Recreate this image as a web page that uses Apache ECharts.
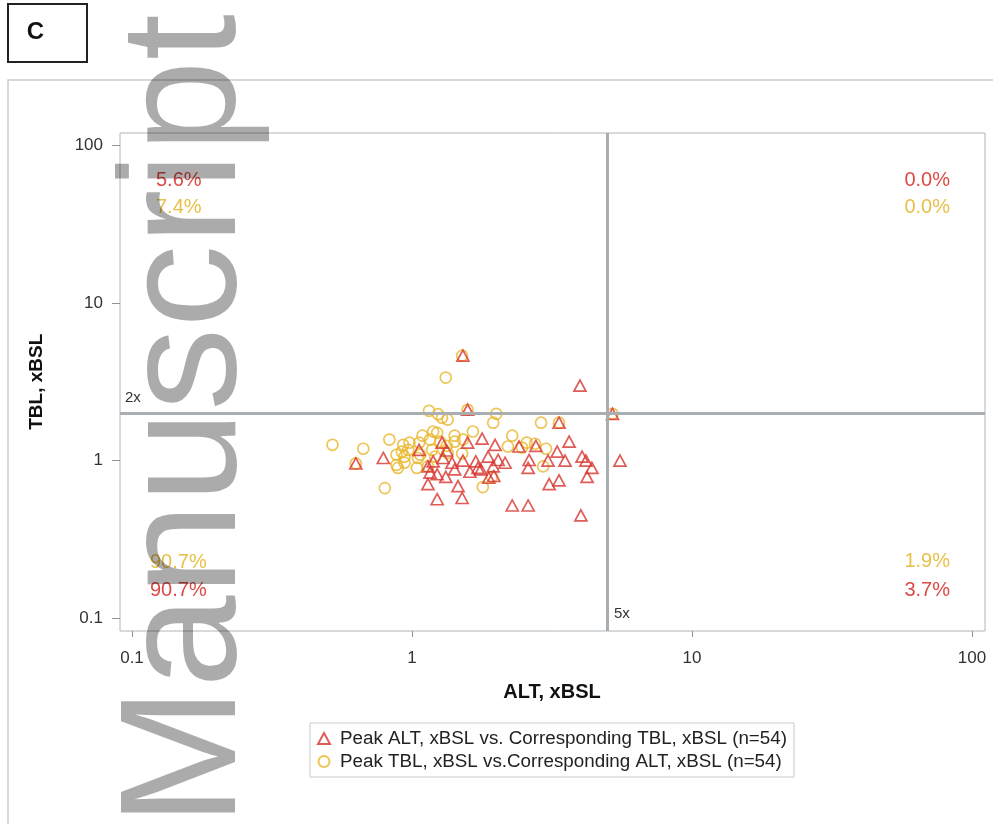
<!DOCTYPE html>
<html>
<head>
<meta charset="utf-8">
<script src="https://cdn.jsdelivr.net/npm/echarts@6/dist/echarts.min.js"></script>
<style>html,body{margin:0;padding:0;background:#fff}#c{width:993px;height:824px}</style>
</head>
<body>
<div id="c"></div>
<script>
// ---------------- DATA ----------------
const panelLabel = 'C';
const watermark = 'Manuscript';
const xAxisName = 'ALT, xBSL';
const yAxisName = 'TBL, xBSL';
const xTickValues = [0.1, 1, 10, 100];
const xTickLabels = ['0.1', '1', '10', '100'];
const yTickValues = [0.1, 1, 10, 100];
const yTickLabels = ['0.1', '1', '10', '100'];
const refX = 5;   // ALT 5x BSL
const refY = 2;   // TBL 2x BSL
const refXLabel = '5x';
const refYLabel = '2x';
const seriesNames = [
  'Peak ALT, xBSL vs. Corresponding TBL, xBSL (n=54)',
  'Peak TBL, xBSL vs.Corresponding ALT, xBSL (n=54)'
];
// quadrant percentages: [upper-left, upper-right, lower-left, lower-right]
const pctPeakALT = ['5.6%', '0.0%', '90.7%', '3.7%'];
const pctPeakTBL = ['7.4%', '0.0%', '90.7%', '1.9%'];

// Peak ALT (x) vs corresponding TBL (y)
const peakALT_x = [0.63,0.79,1.06,1.28,1.29,1.39,1.52,1.58,1.78,1.98,1.87,2.03,1.95,1.14,1.16,1.23,1.14,1.32,1.46,1.61,1.76,1.96,1.23,1.51,1.52,1.58,2.41,2.77,3.64,3.30,2.62,3.06,3.52,4.05,4.18,4.39,4.22,2.60,3.35,3.09,2.28,2.60,4.01,3.98,5.2,5.53,3.35,1.72,1.33,1.69,1.19,2.15,1.88,1.42];
const peakALT_y = [0.96,1.04,1.17,1.30,1.04,0.97,1.00,1.30,1.38,1.26,1.06,1.01,0.92,0.92,0.84,0.82,0.71,0.79,0.69,0.85,0.88,0.80,0.57,0.58,4.63,2.10,1.23,1.24,1.32,1.14,1.01,1.00,1.00,1.06,1.00,0.90,0.79,0.90,0.75,0.71,0.52,0.52,0.45,2.99,1.98,1.00,1.74,0.90,1.16,0.99,0.99,0.97,0.78,0.88];
// Peak TBL (y) vs corresponding ALT (x)
const peakTBL_x = [0.52,0.67,0.63,0.80,0.83,0.93,0.98,1.06,0.97,0.88,0.94,0.88,0.89,0.94,1.05,1.04,1.16,1.19,1.23,1.18,1.26,1.33,1.34,1.21,1.42,1.42,1.51,1.65,1.15,1.24,1.28,1.34,1.32,1.51,1.58,2.00,1.95,2.89,2.28,2.20,2.57,2.47,2.75,3.01,2.94,1.93,1.79,3.35,5.2,1.14,1.09,0.92,1.52,1.07];
const peakTBL_y = [1.26,1.19,0.96,0.67,1.36,1.26,1.30,1.30,1.17,1.09,1.06,0.94,0.90,0.97,1.04,0.90,1.36,1.53,1.50,1.17,1.32,1.24,1.12,1.06,1.44,1.32,1.11,1.53,2.07,1.97,1.87,1.82,3.36,4.63,2.10,1.98,1.74,1.74,1.44,1.23,1.30,1.21,1.28,1.19,0.92,0.79,0.68,1.74,1.98,0.92,1.44,1.14,1.36,1.09];

// ---------------- LAYOUT / STYLE ----------------
const RED = '#d7342f', YEL = '#e8b62c';
const RED_T = '#dc4a45', YEL_T = '#e8bf48';
const FONT = '"Liberation Sans", Arial, sans-serif';
// frame (outer plot box) and decade tick area
const F = {left: 120, top: 133, right: 985, bottom: 631};
const T = {left: 132, top: 145, right: 972, bottom: 618.5};
const xDec = (T.right - T.left) / 3, yDec = (T.bottom - T.top) / 3;
const fxMin = Math.pow(10, -1 - (T.left - F.left) / xDec);
const fxMax = Math.pow(10, 2 + (F.right - T.right) / xDec);
const fyMin = Math.pow(10, -1 - (F.bottom - T.bottom) / yDec);
const fyMax = Math.pow(10, 2 + (T.top - F.top) / yDec);

const zip = (a, b) => a.map((v, i) => [v, b[i]]);

const chart = echarts.init(document.getElementById('c'), null, {renderer: 'canvas'});

function pctText(txt, color, pos) {
  return {type: 'text', x: pos[0], y: pos[1], z: 50,
    style: {text: txt, fill: color, font: '20px ' + FONT, textAlign: pos[2], textVerticalAlign: 'middle'}};
}
const pctPos = {
  ul: [[156, 180, 'left'], [156, 207, 'left']],
  ur: [[950, 180, 'right'], [950, 207, 'right']],
  ll: [[150, 590, 'left'], [150, 562, 'left']],
  lr: [[950, 590, 'right'], [950, 561, 'right']]
};

const option = {
  backgroundColor: '#fff',
  animation: false,
  grid: [
    {left: F.left, top: F.top, width: F.right - F.left, height: F.bottom - F.top,
     show: true, borderColor: '#b0b5b9', borderWidth: 1, backgroundColor: 'transparent'},
    {left: T.left, top: T.top, width: T.right - T.left, height: T.bottom - T.top, show: false}
  ],
  xAxis: [
    {type: 'log', logBase: 10, gridIndex: 0, min: fxMin, max: fxMax, show: false},
    {type: 'log', logBase: 10, gridIndex: 1, min: xTickValues[0], max: xTickValues[xTickValues.length-1],
     offset: F.bottom - T.bottom,
     axisLine: {show: false},
     axisTick: {show: true, length: 6, lineStyle: {color: '#8e959a', width: 1}},
     minorTick: {show: false}, splitLine: {show: false},
     axisLabel: {fontSize: 17, color: '#333', fontFamily: FONT, margin: 19,
       formatter: v => { const i = xTickValues.findIndex(t => Math.abs(t - v) / t < 1e-6); return i >= 0 ? xTickLabels[i] : ''; }},
     name: xAxisName, nameLocation: 'middle', nameGap: 51,
     nameTextStyle: {fontSize: 20, fontWeight: 'bold', color: '#111', fontFamily: FONT}}
  ],
  yAxis: [
    {type: 'log', logBase: 10, gridIndex: 0, min: fyMin, max: fyMax, show: false},
    {type: 'log', logBase: 10, gridIndex: 1, min: yTickValues[0], max: yTickValues[yTickValues.length-1],
     offset: T.left - F.left,
     axisLine: {show: false},
     axisTick: {show: true, length: 8, lineStyle: {color: '#8e959a', width: 1}},
     minorTick: {show: false}, splitLine: {show: false},
     axisLabel: {fontSize: 17, color: '#333', fontFamily: FONT, margin: 17,
       formatter: v => { const i = yTickValues.findIndex(t => Math.abs(t - v) / t < 1e-6); return i >= 0 ? yTickLabels[i] : ''; }},
     name: yAxisName, nameLocation: 'middle', nameGap: 74, nameRotate: 90,
     nameTextStyle: {fontSize: 19, fontWeight: 'bold', color: '#111', fontFamily: FONT}}
  ],
  legend: {
    orient: 'vertical', left: 310, top: 723,
    padding: [6, 7, 6, 7], itemGap: 4, itemWidth: 12, itemHeight: 11,
    borderColor: '#c8cacc', borderWidth: 1,
    textStyle: {fontSize: 18.8, color: '#222', fontFamily: FONT, padding: [0, 0, 0, 5]},
    data: seriesNames
  },
  series: [
    {name: seriesNames[0], type: 'scatter', xAxisIndex: 0, yAxisIndex: 0,
     data: zip(peakALT_x, peakALT_y), symbol: 'triangle', symbolSize: [12, 11],
     itemStyle: {color: 'rgba(255,255,255,0)', borderColor: RED, borderWidth: 1.7},
     z: 3,
     markLine: {silent: true, symbol: 'none', animation: false, label: {show: false},
       lineStyle: {color: '#a9aeb2', width: 3, type: 'solid'},
       data: [{xAxis: refX}, {yAxis: refY}]}},
    {name: seriesNames[1], type: 'scatter', xAxisIndex: 0, yAxisIndex: 0,
     data: zip(peakTBL_x, peakTBL_y), symbol: 'circle', symbolSize: 11,
     itemStyle: {color: 'rgba(255,255,255,0)', borderColor: YEL, borderWidth: 1.7},
     z: 2}
  ],
  graphic: [
    // outer light box
    {type: 'rect', shape: {x: 8, y: 80, width: 1000, height: 800}, z: 0,
     style: {fill: 'none', stroke: '#c9cbcd', lineWidth: 1.5}},
    // panel label box
    {type: 'rect', shape: {x: 8, y: 4, width: 79, height: 58}, z: 1,
     style: {fill: '#fff', stroke: '#222', lineWidth: 2}},
    {type: 'text', x: 35.5, y: 32, z: 2,
     style: {text: panelLabel, font: 'bold 24px "Liberation Sans", Arial, sans-serif', fill: '#111', textAlign: 'center', textVerticalAlign: 'middle'}},
    // reference line labels
    {type: 'text', x: 125, y: 398, z: 50,
     style: {text: refYLabel, font: '15px ' + FONT, fill: '#333', textAlign: 'left', textVerticalAlign: 'middle'}},
    {type: 'text', x: 614, y: 614, z: 50,
     style: {text: refXLabel, font: '15px ' + FONT, fill: '#333', textAlign: 'left', textVerticalAlign: 'middle'}},
    // quadrant percentages
    pctText(pctPeakALT[0], RED_T, pctPos.ul[0]),
    pctText(pctPeakTBL[0], YEL_T, pctPos.ul[1]),
    pctText(pctPeakALT[1], RED_T, pctPos.ur[0]),
    pctText(pctPeakTBL[1], YEL_T, pctPos.ur[1]),
    pctText(pctPeakALT[2], RED_T, pctPos.ll[0]),
    pctText(pctPeakTBL[2], YEL_T, pctPos.ll[1]),
    pctText(pctPeakALT[3], RED_T, pctPos.lr[0]),
    pctText(pctPeakTBL[3], YEL_T, pctPos.lr[1]),
    // watermark
    {type: 'text', x: 189.5, y: 826, rotation: Math.PI / 2, z: 100,
     style: {text: watermark, font: '166px ' + FONT, fill: 'rgba(0,0,0,0.33)', textAlign: 'left', textVerticalAlign: 'middle'}}
  ]
};
chart.setOption(option);
</script>
</body>
</html>
